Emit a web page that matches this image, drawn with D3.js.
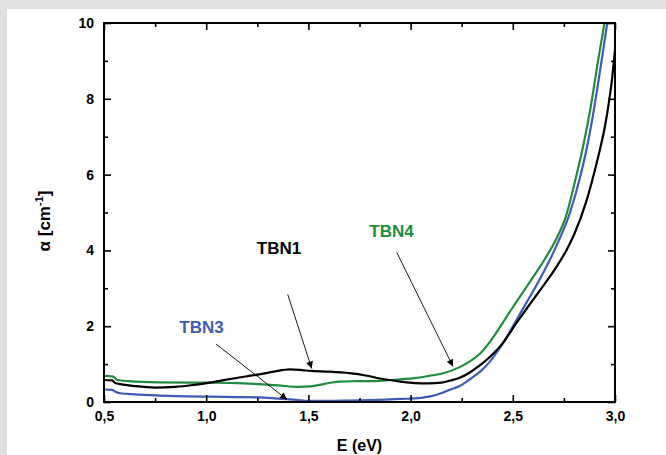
<!DOCTYPE html>
<html><head><meta charset="utf-8">
<script src="https://cdn.jsdelivr.net/npm/d3@7"></script>
<style>
body{margin:0;padding:0;background:#e1e1e1;}
svg{display:block;}
text{font-family:Arial,"Liberation Sans",sans-serif;font-weight:bold;}
</style></head>
<body>
<svg id="c" width="666" height="455"></svg>
<script>
// ---- data ----
const tbn1E = [0.50,0.54,0.555,0.58,0.65,0.75,0.85,0.95,1.02,1.10,1.20,1.26,1.33,1.41,1.47,1.51,1.60,1.70,1.78,1.85,1.95,2.02,2.09,2.15,2.19,2.24,2.29,2.34,2.39,2.44,2.52,2.57,2.62,2.67,2.72,2.76,2.80,2.86,2.91,2.93,2.95,2.97,2.985,3.00];
const tbn1A = [0.58,0.57,0.50,0.47,0.42,0.38,0.40,0.46,0.51,0.59,0.68,0.73,0.80,0.86,0.84,0.82,0.80,0.76,0.70,0.62,0.54,0.50,0.49,0.51,0.56,0.64,0.78,0.97,1.20,1.48,2.10,2.48,2.85,3.22,3.62,3.98,4.42,5.30,6.30,6.75,7.25,7.90,8.50,9.30];

const tbn3E = [0.50,0.54,0.555,0.58,0.65,0.77,0.90,1.02,1.15,1.26,1.35,1.41,1.51,1.60,1.70,1.80,1.95,2.05,2.09,2.16,2.19,2.24,2.29,2.34,2.39,2.42,2.46,2.49,2.52,2.57,2.62,2.66,2.71,2.78,2.83,2.86,2.89,2.93,2.965];
const tbn3A = [0.33,0.32,0.27,0.23,0.20,0.17,0.15,0.14,0.13,0.12,0.09,0.07,0.03,0.03,0.04,0.05,0.08,0.11,0.14,0.25,0.32,0.42,0.60,0.80,1.08,1.30,1.62,1.90,2.18,2.65,3.12,3.52,4.08,5.00,5.95,6.65,7.50,8.85,10.1];

const tbn4E = [0.50,0.545,0.565,0.62,0.77,1.02,1.15,1.26,1.35,1.45,1.51,1.58,1.65,1.75,1.85,1.95,2.02,2.09,2.16,2.24,2.29,2.34,2.39,2.44,2.50,2.54,2.60,2.66,2.72,2.76,2.81,2.85,2.88,2.92,2.952];
const tbn4A = [0.69,0.67,0.58,0.55,0.52,0.51,0.50,0.47,0.44,0.40,0.41,0.48,0.54,0.55,0.56,0.60,0.63,0.69,0.76,0.92,1.07,1.28,1.60,2.00,2.50,2.82,3.30,3.80,4.38,4.90,5.95,6.90,7.75,9.10,10.1];

const xTicks = [0.5,1.0,1.5,2.0,2.5,3.0];
const xMinor = [0.75,1.25,1.75,2.25,2.75];
const yTicks = [0,2,4,6,8,10];
const yMinor = [1,3,5,7,9];
const labels = ["TBN1","TBN3","TBN4"];
const colors = ["#000000","#3f5cb5","#1f8c3e"];

// ---- layout ----
const svg = d3.select("#c");
svg.append("rect").attr("x",7).attr("y",9).attr("width",659).attr("height",446).attr("fill","#fff");

const L=104, R=615, T=23, B=402;
const x = d3.scaleLinear().domain([0.5,3.0]).range([L,R]);
const y = d3.scaleLinear().domain([0,10]).range([B,T]);
const fmt = d => d.toFixed(1).replace(".",",");

svg.append("clipPath").attr("id","clip").append("rect").attr("x",L).attr("y",T).attr("width",R-L).attr("height",B-T);

const series = [[tbn1E,tbn1A],[tbn3E,tbn3A],[tbn4E,tbn4A]];
const line = d3.line().x(d=>x(d[0])).y(d=>y(d[1])).curve(d3.curveMonotoneX);
const g = svg.append("g").attr("clip-path","url(#clip)");
[2,1,0].forEach(i=>{
  const pts = series[i][0].map((e,k)=>[e,series[i][1][k]]);
  g.append("path").attr("d",line(pts)).attr("fill","none").attr("stroke",colors[i]).attr("stroke-width",2.2);
});

function styleAxis(sel){ sel.select(".domain").remove(); sel.selectAll("line").attr("stroke","#000").attr("stroke-width",1.6); sel.selectAll("text").attr("font-size","14px").attr("fill","#000"); }
svg.append("g").attr("transform",`translate(0,${B})`).call(d3.axisBottom(x).tickValues(xTicks).tickFormat(fmt).tickSize(-7).tickPadding(9)).call(styleAxis);
svg.append("g").attr("transform",`translate(0,${B})`).call(d3.axisBottom(x).tickValues(xMinor).tickFormat("").tickSize(-4)).call(styleAxis);
svg.append("g").attr("transform",`translate(0,${T})`).call(d3.axisTop(x).tickValues(xTicks).tickFormat("").tickSize(-7)).call(styleAxis);
svg.append("g").attr("transform",`translate(0,${T})`).call(d3.axisTop(x).tickValues(xMinor).tickFormat("").tickSize(-4)).call(styleAxis);
svg.append("g").attr("transform",`translate(${L},0)`).call(d3.axisLeft(y).tickValues(yTicks).tickFormat(d3.format("d")).tickSize(-7).tickPadding(10)).call(styleAxis);
svg.append("g").attr("transform",`translate(${L},0)`).call(d3.axisLeft(y).tickValues(yMinor).tickFormat("").tickSize(-4)).call(styleAxis);
svg.append("g").attr("transform",`translate(${R},0)`).call(d3.axisRight(y).tickValues(yTicks).tickFormat("").tickSize(-7)).call(styleAxis);
svg.append("g").attr("transform",`translate(${R},0)`).call(d3.axisRight(y).tickValues(yMinor).tickFormat("").tickSize(-4)).call(styleAxis);

svg.append("rect").attr("x",L).attr("y",T).attr("width",R-L).attr("height",B-T).attr("fill","none").attr("stroke","#000").attr("stroke-width",2);

svg.append("text").attr("x",(L+R)/2).attr("y",451).attr("text-anchor","middle").attr("font-size","16px").text("E (eV)");
const yt = svg.append("text").attr("transform","translate(50,221) rotate(-90)").attr("text-anchor","middle").attr("font-size","17px");
yt.append("tspan").text("α [cm");
yt.append("tspan").attr("font-size","11px").attr("dy",-7).text("-1");
yt.append("tspan").attr("dy",7).text("]");

const defs = svg.append("defs");
defs.append("marker").attr("id","ah").attr("viewBox","0 0 10 10").attr("refX",10).attr("refY",5)
  .attr("markerWidth",10).attr("markerHeight",7).attr("markerUnits","userSpaceOnUse").attr("orient","auto")
  .append("path").attr("d","M0,0 L10,5 L0,10 z").attr("fill","#000");
const ann = [
  {t:labels[0], c:colors[0], tx:279, ty:254, a:[287.7,294.3,311.7,368.5]},
  {t:labels[1], c:colors[1], tx:201.5, ty:333, a:[216,344,287,399.5]},
  {t:labels[2], c:colors[2], tx:391.5, ty:236.5, a:[396.7,252.3,453,366.5]}
];
ann.forEach(d=>{
  svg.append("text").attr("x",d.tx).attr("y",d.ty).attr("text-anchor","middle").attr("font-size","17px").attr("fill",d.c).text(d.t);
  svg.append("line").attr("x1",d.a[0]).attr("y1",d.a[1]).attr("x2",d.a[2]).attr("y2",d.a[3]).attr("stroke","#000").attr("stroke-width",0.9).attr("marker-end","url(#ah)");
});
</script>
</body></html>
